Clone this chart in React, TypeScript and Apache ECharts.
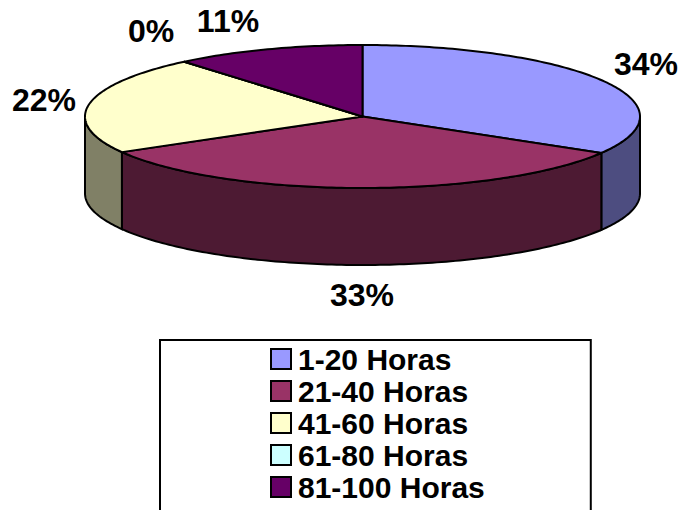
import React, { useEffect, useRef } from "react";
import * as echarts from "echarts";

const categories = ["1-20 Horas", "21-40 Horas", "41-60 Horas", "61-80 Horas", "81-100 Horas"];
const shares = [33.5, 33.2, 22.2, 0, 11.1];
const topColors = ["#9999FF", "#993366", "#FFFFCC", "#CCFFFF", "#660066"];
const sideColors = ["#4D4D80", "#4D1A33", "#808066", "#668080", "#330033"];

const CX = 362.5, CY = 116.5, RX = 277.5, RY = 71.5, DEPTH = 77;
const LABEL_FONT = 'bold 32px "Liberation Sans", Arial, sans-serif';
const labelAt = [[646, 64], [362, 295], [44, 100], [151, 31], [228, 21]];

const total = shares.reduce((a, b) => a + b, 0);
const starts = shares.map((_, i) => shares.slice(0, i).reduce((a, b) => a + b, 0));
const toDeg = (v: number) => (v / total) * 360;
const rim = (deg: number, dy = 0) => {
  const r = (deg * Math.PI) / 180;
  return [CX + RX * Math.sin(r), CY - RY * Math.cos(r) + dy];
};
const arc = (a: number, b: number, dy = 0) => {
  const n = Math.max(1, Math.ceil(Math.abs(b - a)));
  const pts: number[][] = [];
  for (let i = 0; i <= n; i++) pts.push(rim(a + ((b - a) * i) / n, dy));
  return pts;
};

const makeSeries = (name: string, i: number) => ({
  type: "custom",
  name,
  coordinateSystem: "none",
  silent: true,
  itemStyle: { color: topColors[i] },
  data: [[shares[i]]],
  renderItem: (_: unknown, api: any) => {
    const value = api.value(0);
    const a = toDeg(starts[i]);
    const b = a + toDeg(value);
    const lo = Math.max(a, 90);
    const hi = Math.min(b, 270);
    const children: any[] = [];
    if (hi > lo) {
      const front = arc(lo, hi);
      const back = arc(hi, lo, DEPTH);
      children.push({
        type: "polygon",
        shape: { points: [...front, ...back] },
        style: { fill: sideColors[i], stroke: "#000", lineWidth: 2 },
      });
    }
    children.push({
      type: "polygon",
      shape: { points: [[CX, CY], ...arc(a, b)] },
      style: { fill: topColors[i], stroke: "#000", lineWidth: 2, lineJoin: "round" },
    });
    children.push({
      type: "text",
      x: labelAt[i][0],
      y: labelAt[i][1],
      style: {
        text: `${Math.round(value)}%`,
        font: LABEL_FONT,
        fill: "#000",
        align: "center",
        verticalAlign: "middle",
      },
    });
    return { type: "group", children };
  },
});

export default function App() {
  const ref = useRef<HTMLDivElement>(null);
  useEffect(() => {
    const chart = echarts.init(ref.current!, null, { renderer: "svg" });
    chart.setOption({
      animation: false,
      backgroundColor: "#fff",
      legend: {
        orient: "vertical",
        left: 160,
        top: 340,
        height: 170,
        align: "left",
        selectedMode: false,
        icon: "rect",
        itemWidth: 20,
        itemHeight: 20,
        itemGap: 2,
        padding: [4, 106, 12, 110],
        borderColor: "#000",
        borderWidth: 2,
        backgroundColor: "#fff",
        itemStyle: { borderColor: "#000", borderWidth: 2 },
        textStyle: {
          fontFamily: '"Liberation Sans", Arial, sans-serif',
          fontWeight: "bold",
          fontSize: 30,
          padding: [0, 0, 0, 2],
          color: "#000",
        },
        data: categories,
      },
      series: categories.map(makeSeries),
    });
    return () => chart.dispose();
  }, []);
  return <div ref={ref} style={{ position: "fixed", left: 0, top: 0, width: 681, height: 510 }} />;
}
